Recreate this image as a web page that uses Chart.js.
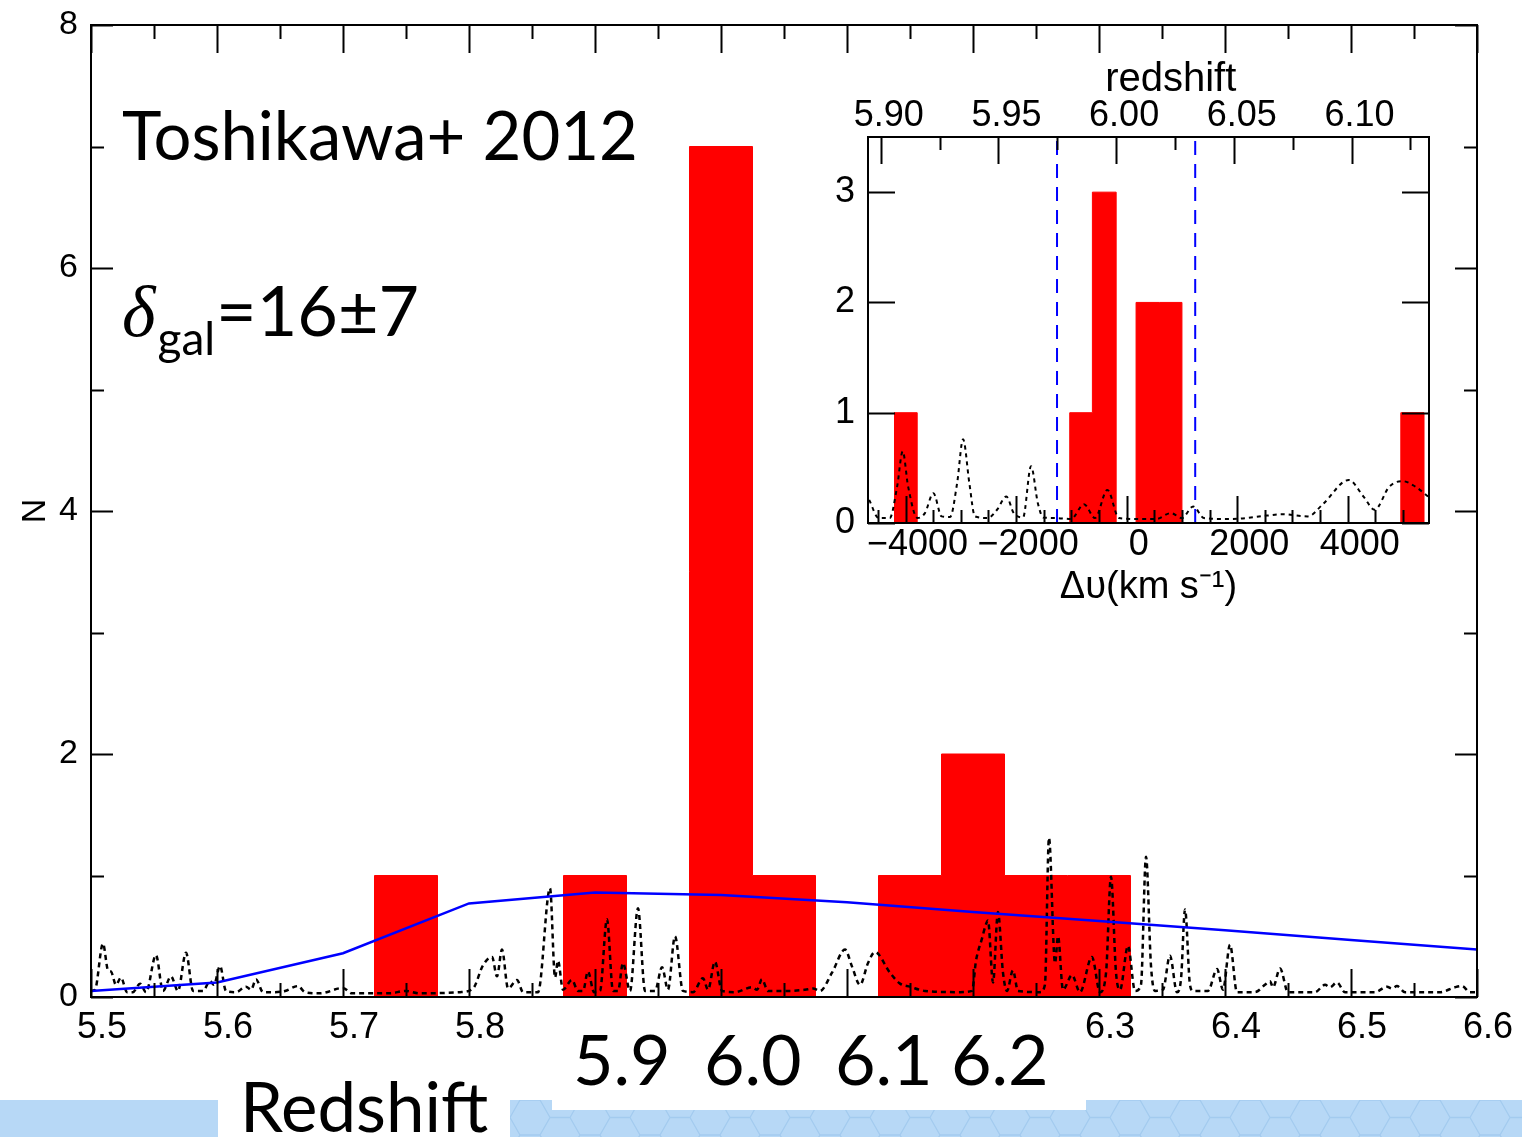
<!DOCTYPE html>
<html>
<head>
<meta charset="utf-8">
<title>Toshikawa+ 2012 redshift distribution</title>
<script src="https://cdn.jsdelivr.net/npm/chart.js@4.4.1/dist/chart.umd.min.js"></script>
<style>
  html, body { margin: 0; padding: 0; background: #fff; }
  #page { position: relative; width: 1522px; height: 1137px; overflow: hidden; }
  #main { position: absolute; left: 0; top: 0; }
  #inset { position: absolute; left: 800px; top: 40px; }
  .band { position: absolute; top: 1100px; height: 37px; background-color: #b7d8f6; }
  .hex {
    background-image: url("data:image/svg+xml,%3Csvg xmlns='http://www.w3.org/2000/svg' width='60' height='34.64'%3E%3Cpath d='M0 17.32 L10 0 L30 0 L40 17.32 L30 34.64 L10 34.64 Z M40 17.32 L60 17.32' fill='none' stroke='%23a3cbef' stroke-width='1.3'/%3E%3C/svg%3E");
  }
  .cover { position: absolute; background: #fff; }
</style>
</head>
<body>
<div id="page">
  <canvas id="main" width="1522" height="1137"></canvas>
  <canvas id="inset" width="660" height="590"></canvas>
  <div class="band" style="left:0;width:218px"></div>
  <div class="band hex" style="left:510px;width:1012px"></div>
  <div class="cover" style="left:552px;top:1098px;width:534px;height:12px"></div>
</div>
<script>
(function () {
    "use strict";

    // ---- main panel: redshift histogram ----
    const zTicks = [5.5, 5.6, 5.7, 5.8, 5.9, 6.0, 6.1, 6.2, 6.3, 6.4, 6.5, 6.6];
    const zTickLabels = ['5.5', '5.6', '5.7', '5.8', '5.9', '6.0', '6.1', '6.2', '6.3', '6.4', '6.5', '6.6'];
    const zBigLabels = ['5.9', '6.0', '6.1', '6.2'];   // redrawn large below the axis
    const zBigLabelLeft = [573, 704, 835, 951];
    const nTicks = [0, 2, 4, 6, 8];
    const nTickLabels = ['0', '2', '4', '6', '8'];

    // histogram bins (dz = 0.05)
    const zBinEdges = [5.675, 5.725, 5.775, 5.825, 5.875, 5.925, 5.975, 6.025, 6.075, 6.125, 6.175, 6.225, 6.275, 6.325];
    const zBinCounts = [0, 1, 0, 0, 1, 0, 7, 1, 0, 1, 2, 1, 1];

    // expected number (blue)
    const modelZ = [5.5, 5.6, 5.7, 5.8, 5.9, 6.0, 6.1, 6.2, 6.3, 6.4, 6.5, 6.6];
    const modelN = [0.05, 0.12, 0.36, 0.77, 0.86, 0.84, 0.78, 0.70, 0.625, 0.55, 0.47, 0.39];

    // filter response (dotted)
    const specZ = [
        5.5000, 5.5032, 5.5095, 5.5135, 5.5159, 5.5198, 5.5238, 5.5286, 5.5333, 5.5389,
        5.5437, 5.5516, 5.5571, 5.5635, 5.5690, 5.5754, 5.5810, 5.5889, 5.5944, 5.5976,
        5.6024, 5.6071, 5.6151, 5.6230, 5.6270, 5.6310, 5.6365, 5.6460, 5.6540, 5.6643,
        5.6698, 5.6817, 5.7000, 5.7071, 5.7373, 5.7492, 5.7611, 5.7929, 5.8032, 5.8111,
        5.8183, 5.8222, 5.8262, 5.8310, 5.8381, 5.8429, 5.8548, 5.8643, 5.8683, 5.8706,
        5.8746, 5.8817, 5.8865, 5.8905, 5.8944, 5.8992, 5.9040, 5.9095, 5.9143, 5.9183,
        5.9222, 5.9278, 5.9341, 5.9397, 5.9476, 5.9532, 5.9579, 5.9635, 5.9698, 5.9778,
        5.9857, 5.9897, 5.9952, 6.0008, 6.0111, 6.0246, 6.0286, 6.0325, 6.0373, 6.0548,
        6.0667, 6.0730, 6.0786, 6.0881, 6.0984, 6.1040, 6.1103, 6.1167, 6.1222, 6.1341,
        6.1421, 6.1500, 6.1619, 6.1897, 6.1992, 6.2024, 6.2071, 6.2103, 6.2119, 6.2159,
        6.2198, 6.2238, 6.2270, 6.2317, 6.2357, 6.2532, 6.2571, 6.2603, 6.2651, 6.2675,
        6.2714, 6.2786, 6.2849, 6.2944, 6.3008, 6.3056, 6.3095, 6.3135, 6.3167, 6.3230,
        6.3286, 6.3333, 6.3373, 6.3413, 6.3444, 6.3508, 6.3563, 6.3619, 6.3651, 6.3683,
        6.3722, 6.3746, 6.3865, 6.3937, 6.3984, 6.4040, 6.4095, 6.4238, 6.4317, 6.4357,
        6.4381, 6.4437, 6.4500, 6.4714, 6.4794, 6.4833, 6.4889, 6.4952, 6.5190, 6.5286,
        6.5325, 6.5365, 6.5429, 6.5706, 6.5825, 6.5881, 6.5944, 6.6000
    ];
    const specN = [
        0.05, 0.06, 0.44, 0.22, 0.21, 0.10, 0.16, 0.04, 0.04, 0.11,
        0.04, 0.345, 0.05, 0.17, 0.05, 0.365, 0.05, 0.05, 0.13, 0.10,
        0.255, 0.05, 0.04, 0.085, 0.06, 0.145, 0.04, 0.04, 0.05, 0.09,
        0.04, 0.03, 0.075, 0.03, 0.03, 0.05, 0.03, 0.04, 0.07, 0.26,
        0.33, 0.17, 0.39, 0.07, 0.14, 0.04, 0.04, 0.895, 0.16, 0.30,
        0.06, 0.14, 0.05, 0.05, 0.21, 0.04, 0.05, 0.64, 0.05, 0.05,
        0.28, 0.05, 0.73, 0.05, 0.05, 0.245, 0.06, 0.50, 0.05, 0.04,
        0.155, 0.06, 0.29, 0.05, 0.04, 0.08, 0.06, 0.145, 0.05, 0.05,
        0.06, 0.07, 0.05, 0.20, 0.39, 0.25, 0.10, 0.28, 0.37, 0.20,
        0.11, 0.085, 0.05, 0.04, 0.05, 0.30, 0.48, 0.60, 0.63, 0.12,
        0.70, 0.20, 0.05, 0.22, 0.05, 0.04, 0.10, 1.31, 0.28, 0.50,
        0.06, 0.18, 0.04, 0.33, 0.04, 0.20, 0.99, 0.20, 0.06, 0.42,
        0.05, 0.10, 1.155, 0.25, 0.05, 0.06, 0.34, 0.04, 0.15, 0.72,
        0.10, 0.05, 0.05, 0.23, 0.06, 0.43, 0.04, 0.04, 0.10, 0.13,
        0.08, 0.235, 0.04, 0.04, 0.10, 0.08, 0.12, 0.04, 0.04, 0.085,
        0.07, 0.09, 0.04, 0.04, 0.08, 0.09, 0.04, 0.04
    ];

    // ---- inset: velocity offsets around z = 6.0 ----
    const dvTicks = [-4000, -2000, 0, 2000, 4000];
    const dvTickLabels = ['\u22124000', '\u22122000', '0', '2000', '4000'];
    const zsTicks = [5.90, 5.95, 6.00, 6.05, 6.10];
    const zsTickLabels = ['5.90', '5.95', '6.00', '6.05', '6.10'];
    const insetNTicks = [0, 1, 2, 3];
    const insetNTickLabels = ['0', '1', '2', '3'];

    const dvBinEdges = [-4210, -3790, -1030, -620, -190, 170, 590, 1000, 4960, 5380];
    const dvBinCounts = [1, 0, 1, 3, 0, 2, 2, 0, 1];
    const dvWindow = [-1260, 1240];

    const insetDv = [
        -4659, -4487, -4287, -4153, -4052, -3954, -3784, -3650, -3497, -3348,
        -3195, -3068, -2960, -2846, -2746, -2511, -2345, -2177, -2043, -1875,
        -1730, -1607, -1508, -1278, -1007, -772, -573, -349, -139, 268,
        530, 801, 1000, 1204, 1398, 1868, 2537, 2808, 3278, 3549,
        4019, 4285, 4486, 4753, 4988, 5223, 5457
    ];
    const insetN = [
        0.21, 0.045, 0.045, 0.33, 0.65, 0.33, 0.045, 0.09, 0.27, 0.06,
        0.055, 0.36, 0.76, 0.36, 0.06, 0.045, 0.12, 0.24, 0.09, 0.05,
        0.515, 0.18, 0.05, 0.045, 0.036, 0.17, 0.045, 0.30, 0.045, 0.036,
        0.036, 0.09, 0.045, 0.15, 0.045, 0.036, 0.067, 0.08, 0.06, 0.17,
        0.39, 0.24, 0.12, 0.33, 0.38, 0.33, 0.24
    ];

    const AXIS_FONT = '"Liberation Sans", Helvetica, Arial, sans-serif';
    const SLIDE_FONT = 'Lato, "Open Sans", sans-serif';

    // one point per bin edge; 'before' stepping carries each count across its bin
    function stepPoints(edges, counts) {
        const pts = counts.map((c, i) => ({ x: edges[i], y: c }));
        pts.push({ x: edges[edges.length - 1], y: 0 });
        return pts;
    }
    function xy(xs, ys) {
        return xs.map((x, i) => ({ x: x, y: ys[i] }));
    }
    function midpoints(vals) {
        const out = [];
        for (let i = 0; i < vals.length - 1; i++) out.push((vals[i] + vals[i + 1]) / 2);
        return out;
    }
    function range(from, to, step) {
        const out = [];
        for (let v = from; v <= to + 1e-9; v += step) out.push(v);
        return out;
    }
    function fixedTicks(values) {
        return function (scale) { scale.ticks = values.map(v => ({ value: v })); };
    }
    function noPad(s) {
        s.paddingTop = 0; s.paddingBottom = 0; s.paddingLeft = 0; s.paddingRight = 0;
    }

    // frame + inward tick marks on every side
    const frameTicks = {
        id: 'frameTicks',
        afterDraw(chart, args, opts) {
            const { ctx, chartArea: a } = chart;
            ctx.save();
            ctx.strokeStyle = '#000';
            ctx.lineWidth = 2;
            ctx.beginPath();
            opts.sets.forEach(set => {
                const s = chart.scales[set.scale];
                set.values.forEach(v => {
                    const p = Math.round(s.getPixelForValue(v)) + 0.5;
                    set.sides.forEach(side => {
                        if (side === 'bottom') { ctx.moveTo(p, a.bottom); ctx.lineTo(p, a.bottom - set.len); }
                        if (side === 'top') { ctx.moveTo(p, a.top); ctx.lineTo(p, a.top + set.len); }
                        if (side === 'left') { ctx.moveTo(a.left, p); ctx.lineTo(a.left + set.len, p); }
                        if (side === 'right') { ctx.moveTo(a.right, p); ctx.lineTo(a.right - set.len, p); }
                    });
                });
            });
            ctx.stroke();
            ctx.strokeRect(a.left, a.top, a.right - a.left, a.bottom - a.top);
            ctx.restore();
        }
    };

    // slide annotations over the main panel
    const slideText = {
        id: 'slideText',
        afterDraw(chart) {
            const ctx = chart.ctx;
            ctx.save();
            ctx.fillStyle = '#000';
            ctx.textAlign = 'left';
            ctx.textBaseline = 'alphabetic';
            ctx.font = '67px ' + SLIDE_FONT;
            ctx.fillText('Toshikawa+ 2012', 122, 160);

            let x = 122;
            ctx.font = 'italic 72px "Liberation Serif", "DejaVu Serif", serif';
            ctx.fillText('\u03b4', x, 336);
            x += ctx.measureText('\u03b4').width + 2;
            ctx.font = '46px ' + SLIDE_FONT;
            ctx.fillText('gal', x, 355);
            x += ctx.measureText('gal').width + 1;
            ctx.font = '70px ' + SLIDE_FONT;
            ctx.fillText('=16\u00b17', x, 336);

            ctx.font = '70px ' + SLIDE_FONT;
            zBigLabels.forEach((t, i) => ctx.fillText(t, zBigLabelLeft[i], 1085));
            ctx.font = '69px ' + SLIDE_FONT;
            ctx.fillText('Redshift', 240, 1132);
            ctx.restore();
        }
    };

    new Chart(document.getElementById('main'), {
        type: 'line',
        data: {
            datasets: [
                {
                    label: 'expected',
                    data: xy(modelZ, modelN),
                    borderColor: '#0000ff',
                    borderWidth: 2.5,
                    pointRadius: 0,
                    tension: 0,
                    order: 0
                },
                {
                    label: 'response',
                    data: xy(specZ, specN),
                    borderColor: '#000',
                    borderWidth: 2.5,
                    borderDash: [5, 4],
                    pointRadius: 0,
                    cubicInterpolationMode: 'monotone',
                    order: 1
                },
                {
                    label: 'N',
                    data: stepPoints(zBinEdges, zBinCounts),
                    stepped: 'before',
                    fill: 'origin',
                    backgroundColor: '#ff0000',
                    borderColor: '#ff0000',
                    borderWidth: 1,
                    pointRadius: 0,
                    order: 2
                }
            ]
        },
        options: {
            responsive: false,
            animation: false,
            devicePixelRatio: 1,
            layout: { padding: { top: 25, right: 45, left: 0, bottom: 0 } },
            plugins: {
                legend: { display: false },
                tooltip: { enabled: false },
                frameTicks: {
                    sets: [
                        { scale: 'x', values: zTicks, len: 28, sides: ['bottom', 'top'] },
                        { scale: 'x', values: midpoints(zTicks), len: 14, sides: ['bottom', 'top'] },
                        { scale: 'y', values: nTicks, len: 22, sides: ['left', 'right'] },
                        { scale: 'y', values: midpoints(nTicks), len: 13, sides: ['left', 'right'] }
                    ]
                }
            },
            scales: {
                x: {
                    type: 'linear',
                    min: 5.5,
                    max: 6.6,
                    grid: { display: false, drawTicks: false },
                    border: { display: false },
                    afterBuildTicks: fixedTicks(zTicks),
                    afterFit: s => { s.height = 140; noPad(s); },
                    ticks: {
                        autoSkip: false,
                        maxRotation: 0,
                        padding: 13,
                        labelOffset: 11,
                        color: '#000',
                        font: { family: AXIS_FONT, size: 36, lineHeight: 1 },
                        callback: (v, i) => zBigLabels.includes(zTickLabels[i]) ? '' : zTickLabels[i]
                    }
                },
                y: {
                    min: 0,
                    max: 8,
                    grid: { display: false, drawTicks: false },
                    border: { display: false },
                    afterBuildTicks: fixedTicks(nTicks),
                    afterFit: s => { s.width = 91; noPad(s); },
                    ticks: {
                        padding: 13,
                        color: '#000',
                        font: { family: AXIS_FONT, size: 34, lineHeight: 1 },
                        callback: (v, i) => nTickLabels[i]
                    },
                    title: {
                        display: true,
                        text: 'N',
                        color: '#000',
                        padding: { top: 19, bottom: 0 },
                        font: { family: AXIS_FONT, size: 34, lineHeight: 1 }
                    }
                }
            }
        },
        plugins: [frameTicks, slideText]
    });

    new Chart(document.getElementById('inset'), {
        type: 'line',
        data: {
            datasets: [
                {
                    label: 'window low',
                    data: [{ x: dvWindow[0], y: 0 }, { x: dvWindow[0], y: 3.5 }],
                    borderColor: '#0000ff',
                    borderWidth: 2,
                    borderDash: [14, 9],
                    pointRadius: 0,
                    order: 0
                },
                {
                    label: 'window high',
                    data: [{ x: dvWindow[1], y: 0 }, { x: dvWindow[1], y: 3.5 }],
                    borderColor: '#0000ff',
                    borderWidth: 2,
                    borderDash: [14, 9],
                    pointRadius: 0,
                    order: 0
                },
                {
                    label: 'response',
                    data: xy(insetDv, insetN),
                    borderColor: '#000',
                    borderWidth: 2,
                    borderDash: [4, 4],
                    pointRadius: 0,
                    cubicInterpolationMode: 'monotone',
                    order: 1
                },
                {
                    label: 'N',
                    data: stepPoints(dvBinEdges, dvBinCounts),
                    stepped: 'before',
                    fill: 'origin',
                    backgroundColor: '#ff0000',
                    borderColor: '#ff0000',
                    borderWidth: 1,
                    pointRadius: 0,
                    order: 2
                }
            ]
        },
        options: {
            responsive: false,
            animation: false,
            devicePixelRatio: 1,
            layout: { padding: { top: 0, right: 31, left: 0, bottom: 0 } },
            plugins: {
                legend: { display: false },
                tooltip: { enabled: false },
                frameTicks: {
                    sets: [
                        { scale: 'x', values: dvTicks, len: 27, sides: ['bottom'] },
                        { scale: 'x', values: range(-4500, 5000, 500).filter(v => v % 2000 !== 0), len: 13, sides: ['bottom'] },
                        { scale: 'xz', values: zsTicks, len: 27, sides: ['top'] },
                        { scale: 'xz', values: midpoints(zsTicks).concat([6.125]), len: 13, sides: ['top'] },
                        { scale: 'y', values: insetNTicks, len: 27, sides: ['left', 'right'] }
                    ]
                }
            },
            scales: {
                x: {
                    type: 'linear',
                    position: 'bottom',
                    min: -4680,
                    max: 5470,
                    grid: { display: false, drawTicks: false },
                    border: { display: false },
                    afterBuildTicks: fixedTicks(dvTicks),
                    afterFit: s => { s.height = 107; noPad(s); },
                    ticks: {
                        autoSkip: false,
                        maxRotation: 0,
                        padding: 4,
                        labelOffset: 12,
                        color: '#000',
                        font: { family: AXIS_FONT, size: 36, lineHeight: 1 },
                        callback: (v, i) => dvTickLabels[i]
                    },
                    title: {
                        display: true,
                        text: '\u0394\u03c5(km s\u207b\u00b9)',
                        color: '#000',
                        padding: { top: 0, bottom: 23 },
                        font: { family: AXIS_FONT, size: 38, lineHeight: 1 }
                    }
                },
                xz: {
                    type: 'linear',
                    axis: 'x',
                    position: 'top',
                    min: 5.8946,
                    max: 6.1329,
                    grid: { display: false, drawTicks: false },
                    border: { display: false },
                    afterBuildTicks: fixedTicks(zsTicks),
                    afterFit: s => { s.height = 97; noPad(s); },
                    ticks: {
                        autoSkip: false,
                        maxRotation: 0,
                        padding: 3,
                        labelOffset: 8,
                        color: '#000',
                        font: { family: AXIS_FONT, size: 36, lineHeight: 1 },
                        callback: (v, i) => zsTickLabels[i]
                    },
                    title: {
                        display: true,
                        text: '    redshift',
                        color: '#000',
                        padding: { top: 20, bottom: 0 },
                        font: { family: AXIS_FONT, size: 40, lineHeight: 1 }
                    }
                },
                y: {
                    min: 0,
                    max: 3.5,
                    grid: { display: false, drawTicks: false },
                    border: { display: false },
                    afterBuildTicks: fixedTicks(insetNTicks),
                    afterFit: s => { s.width = 68; noPad(s); },
                    ticks: {
                        padding: 13,
                        color: '#000',
                        font: { family: AXIS_FONT, size: 36, lineHeight: 1 },
                        callback: (v, i) => insetNTickLabels[i]
                    }
                }
            }
        },
        plugins: [frameTicks]
    });
})();
</script>
</body>
</html>
